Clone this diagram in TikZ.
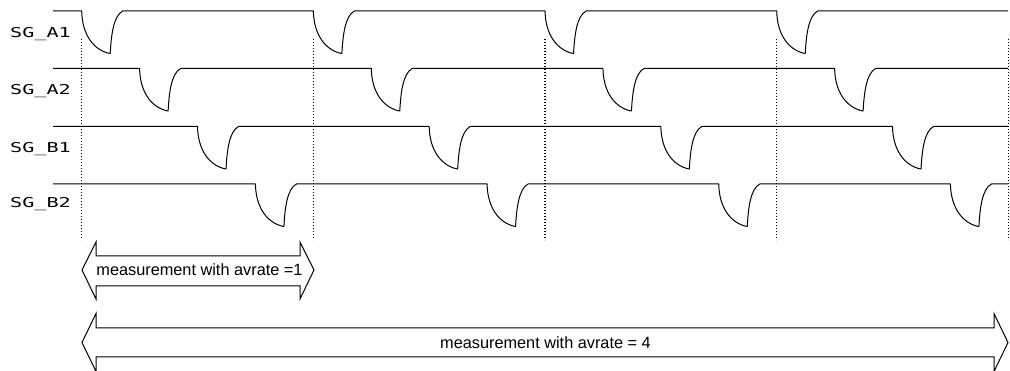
\documentclass[tikz,border=0pt]{standalone}
\usepackage{fontspec}
\usepackage{graphicx}
\setmainfont{Liberation Sans}
\newfontfamily\labfont{DejaVu Sans Mono}
\newcommand\widelab[1]{\scalebox{1.48}[1]{#1}}
\tikzset{
  sig/.style={line width=1pt, line join=round, draw=black},
  guide/.style={line width=1.1pt, draw=black, dash pattern=on 1.3pt off 1.7pt},
  measarrow/.style={line width=1pt, draw=black, line join=miter},
  lab/.style={anchor=base west, inner sep=0pt, font=\labfont\fontsize{13.6}{13.6}\selectfont},
  meas/.style={inner sep=0pt, font=\fontsize{16.3}{16.3}\selectfont},
}
\begin{document}
\begin{tikzpicture}[x=1pt, y=-1pt]
\useasboundingbox (0,0) rectangle (1010,371);

% labels
\node[lab] (labA1) at (10,37.3)  {\widelab{SG\_A1}};
\node[lab] (labA2) at (10,95)    {\widelab{SG\_A2}};
\node[lab] (labB1) at (10,152.7) {\widelab{SG\_B1}};
\node[lab] (labB2) at (10,208)   {\widelab{SG\_B2}};

% signals
\foreach \c/\y in {0/11, 1/68.5, 2/126.5, 3/184}{
  \draw[sig] (53,\y)
    \foreach \k [evaluate=\k as \xo using 81.7+\c*57.9+\k*231.67] in {0,...,3}{
      -- (\xo,\y)
      .. controls ({\xo+0.5},{\y+24}) and ({\xo+12},{\y+39}) .. ({\xo+28},{\y+42.5})
      -- ({\xo+28.5},{\y+42.5})
      .. controls ({\xo+29.5},{\y+25}) and ({\xo+31.5},{\y+5}) .. ({\xo+41},\y)
    } -- (1008,\y);
}

% dotted guides
\foreach \k in {0,...,4}{
  \coordinate (gt\k) at ({81.7+\k*231.65},39);
  \coordinate (gb\k) at ({81.7+\k*231.65},240);
  \draw[guide] (gt\k) -- (gb\k);
}

% measurement arrows
\draw[measarrow] (82,270) -- (96,242) -- (96,256) -- (300,256) -- (300,242)
  -- (314,270) -- (300,299) -- (300,286) -- (96,286) -- (96,299) -- cycle;
\node[meas] (m1) at (199.5,270) {measurement with avrate =1};

\draw[measarrow] (82,342.5) -- (96,313.5) -- (96,328) -- (994,328) -- (994,313.5)
  -- (1008,342.5) -- (994,371.5) -- (994,357) -- (96,357) -- (96,371.5) -- cycle;
\node[meas] (m4) at (545.5,342.5) {measurement with avrate = 4};
\end{tikzpicture}
\end{document}
